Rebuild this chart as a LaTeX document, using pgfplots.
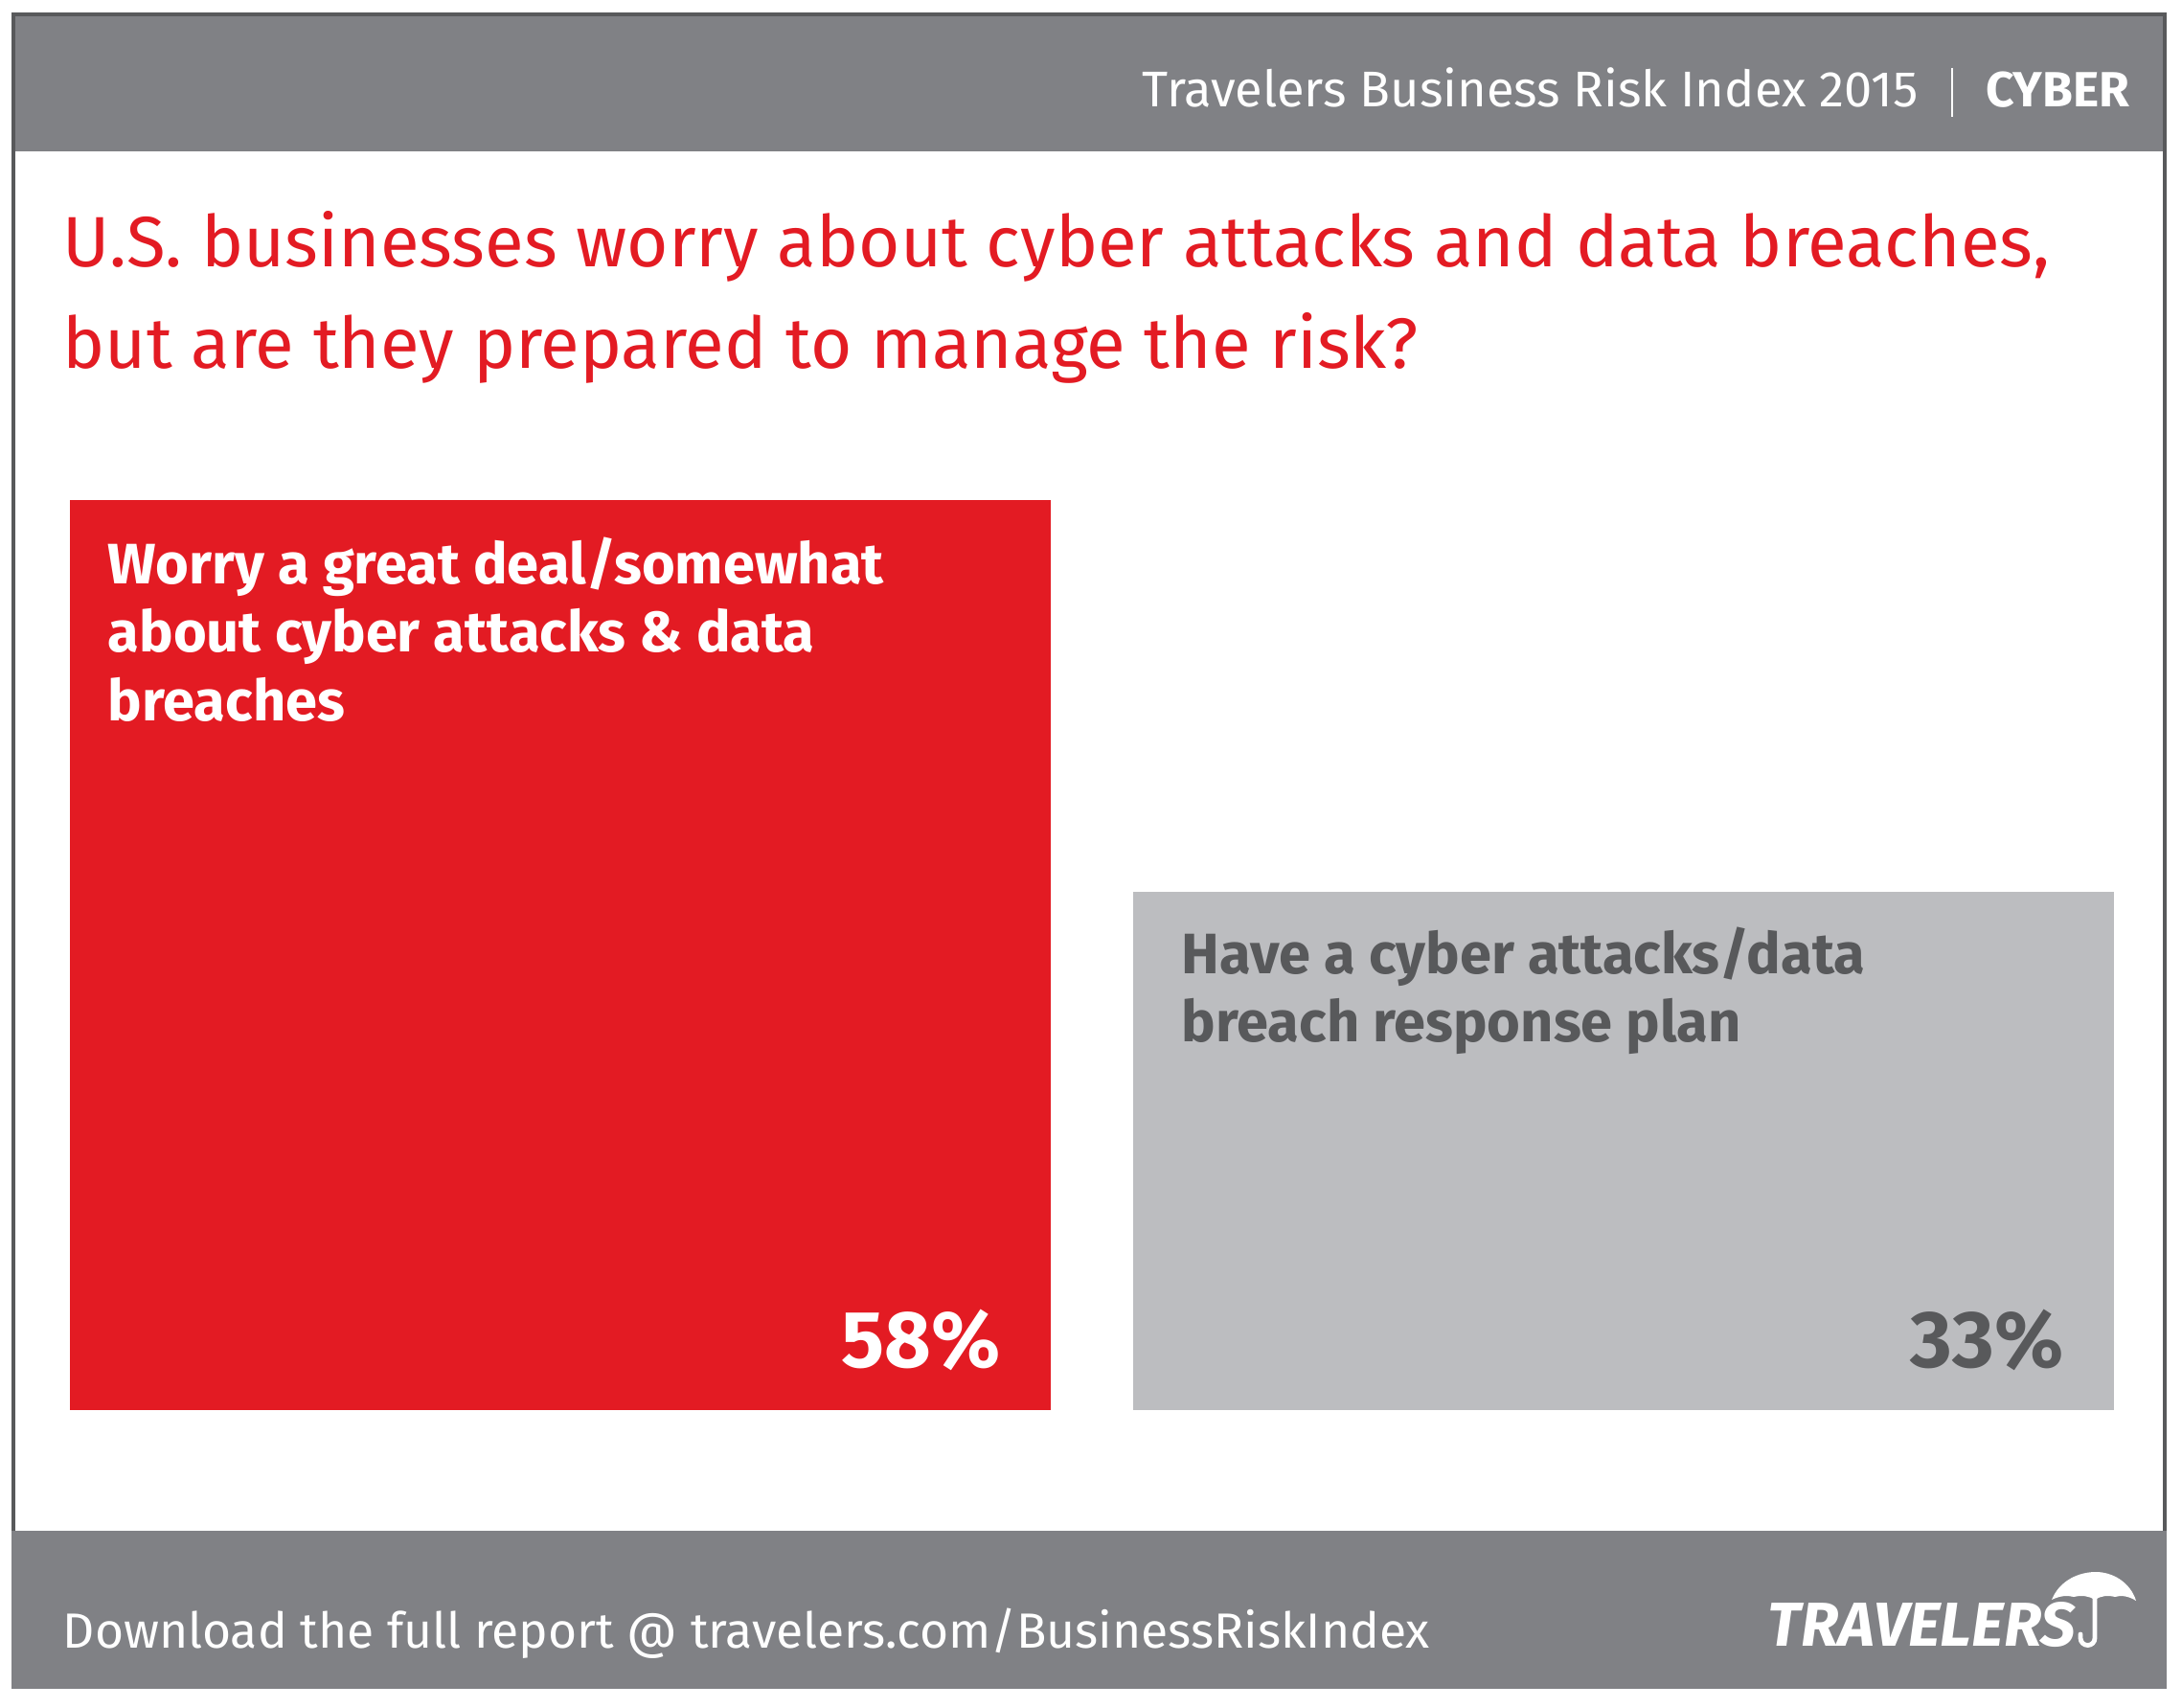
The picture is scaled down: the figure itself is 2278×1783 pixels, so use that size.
\documentclass[border=0pt]{standalone}
\usepackage{pgfplots}
\pgfplotsset{compat=1.18}
\usepackage{fontspec}
\setmainfont{Fira Sans}
\definecolor{banner}{RGB}{128,129,133}
\definecolor{frameline}{RGB}{88,89,91}
\definecolor{trvred}{RGB}{227,27,35}
\definecolor{barGray}{RGB}{188,189,192}
\definecolor{darkText}{RGB}{88,89,91}
\begin{document}
\begin{tikzpicture}[x=0.25pt,y=-0.25pt]
\path[use as bounding box,fill=white] (0,0) rectangle (2278,1783);
% banners and frame
\fill[banner] (12,13) rectangle (2262,158);
\fill[banner] (12,1598) rectangle (2262,1763);
\fill[frameline] (12,13) rectangle (2262,17);
\fill[frameline] (12,13) rectangle (16,1598);
\fill[frameline] (2258,13) rectangle (2262,1598);
% top banner text
\node[anchor=base east,text=white,inner sep=0pt,font=\fontsize{13.1pt}{16pt}\selectfont] at (2003,112) {Travelers Business Risk Index 2015};
\draw[white,line width=0.6pt] (2038,71) -- (2038,122);
\node[anchor=base east,text=white,inner sep=0pt,font=\fontsize{12.9pt}{16pt}\selectfont\bfseries] at (2224,112) {CYBER};
% title
\node[anchor=base west,text=trvred,inner sep=0pt,font=\fontsize{18.6pt}{20pt}\selectfont] at (65,279) {U.S. businesses worry about cyber attacks and data breaches,};
\node[anchor=base west,text=trvred,inner sep=0pt,font=\fontsize{18.6pt}{20pt}\selectfont] at (65,385) {but are they prepared to manage the risk?};
% chart
\begin{axis}[
  at={(18.25pt,-368pt)}, anchor=south west,
  scale only axis, width=533.5pt, height=237.5pt,
  xmin=-0.461, xmax=1.461, ymin=0, ymax=58,
  hide axis, clip=false,
]
\addplot[ybar, bar shift=0pt, bar width=0.9217, fill=trvred, draw=none] coordinates {(0,58)};
\addplot[ybar, bar shift=0pt, bar width=0.9217, fill=barGray, draw=none] coordinates {(1,33)};
\end{axis}
% bar labels
\begin{scope}[every node/.style={anchor=base west,inner sep=0pt,font=\fontsize{14.9pt}{17pt}\selectfont\bfseries}]
\node[text=white] at (112,610) {Worry a great deal/somewhat};
\node[text=white] at (112,681) {about cyber attacks \& data};
\node[text=white] at (112,753) {breaches};
\node[text=darkText] at (1233,1017) {Have a cyber attacks/data};
\node[text=darkText] at (1233,1088) {breach response plan};
\end{scope}
\node[anchor=base east,inner sep=0pt,text=white,font=\fontsize{21pt}{24pt}\selectfont\bfseries] at (1045,1427) {58\%};
\node[anchor=base east,inner sep=0pt,text=darkText,font=\fontsize{21pt}{24pt}\selectfont\bfseries] at (2155,1427) {33\%};
% footer
\node[anchor=base west,text=white,inner sep=0pt,font=\fontsize{12.9pt}{16pt}\selectfont] at (65,1720) {Download the full report @ travelers.com/BusinessRiskIndex};
\node[anchor=base west,text=white,inner sep=0pt,font=\fontsize{16.2pt}{18pt}\selectfont\bfseries\itshape] at (1845,1718) {TRAVELERS};
% umbrella
\fill[white] (2142,1670) .. controls (2150,1650) and (2170,1641) .. (2188,1641)
  .. controls (2206,1641) and (2224,1652) .. (2230,1671)
  .. controls (2222,1666) and (2214,1665) .. (2208,1667)
  .. controls (2200,1665) and (2193,1666) .. (2187,1670)
  .. controls (2181,1666) and (2173,1665) .. (2165,1667)
  .. controls (2158,1665) and (2150,1666) .. (2142,1670) -- cycle;
\draw[white,line width=1.2pt,line cap=round] (2187,1666) -- (2187,1710) arc[start angle=0,end angle=180,radius=7.5] -- (2172,1706);
\end{tikzpicture}
\end{document}
